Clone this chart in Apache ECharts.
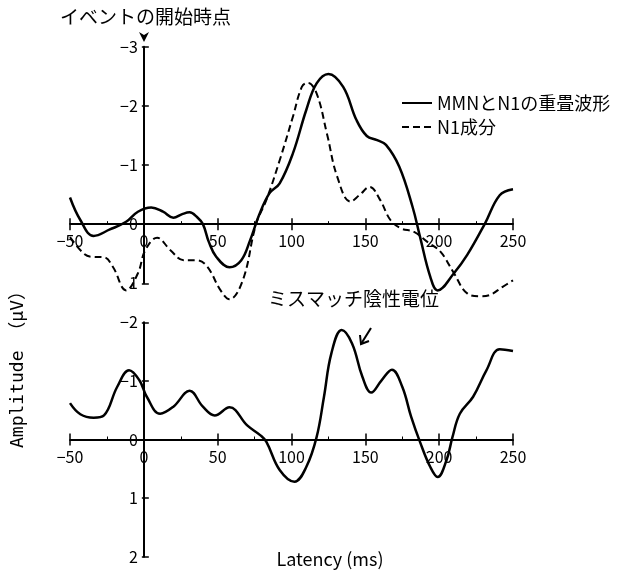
<!DOCTYPE html>
<html>
<head>
<meta charset="utf-8">
<script src="https://cdn.jsdelivr.net/npm/echarts@6/dist/echarts.min.js"></script>
<style>
  html, body { margin: 0; padding: 0; background: #fff; }
  #main { width: 631px; height: 572px; }
</style>
</head>
<body>
<div id="main"></div>
<script>
// upper panel: MMN+N1 overlap waveform (solid) and N1 component (dashed)
var topTimeSolid = [-50, -43, -34, -23, -12, -4, 5, 13, 20, 26, 31, 36, 40, 44, 49, 58, 66, 72, 78, 85, 92, 101, 110, 117, 125, 135, 144, 151, 158, 164, 173, 182, 187, 194, 199, 210, 219, 231, 241, 250];
var topSolid = [-0.45, -0.07, 0.20, 0.09, -0.04, -0.21, -0.28, -0.21, -0.11, -0.17, -0.20, -0.12, 0.0, 0.30, 0.55, 0.73, 0.61, 0.27, -0.15, -0.52, -0.69, -1.20, -1.93, -2.38, -2.54, -2.32, -1.76, -1.49, -1.42, -1.34, -0.97, -0.29, 0.21, 0.89, 1.12, 0.83, 0.52, -0.01, -0.49, -0.59];

var topTimeDash = [-50, -41, -36, -27, -21, -12, -4, 1, 9, 18, 27, 36, 43, 52, 58, 67, 76, 83, 92, 101, 107, 111, 117, 124, 131, 140, 146, 153, 160, 167, 174, 183, 192, 201, 210, 219, 228, 234, 243, 250];
var topDash = [0.22, 0.49, 0.55, 0.56, 0.72, 1.12, 0.83, 0.44, 0.23, 0.44, 0.61, 0.61, 0.72, 1.12, 1.27, 0.95, 0.0, -0.41, -1.08, -1.82, -2.32, -2.39, -2.21, -1.53, -0.80, -0.38, -0.49, -0.63, -0.41, -0.07, 0.07, 0.13, 0.30, 0.47, 0.83, 1.17, 1.22, 1.20, 1.06, 0.95];

// lower panel: mismatch negativity (difference wave)
var bottomTime = [-50, -43, -34, -27, -18, -10, -3, 2, 11, 20, 31, 40, 48, 58, 70, 79, 83, 92, 102, 110, 117, 122, 127, 134, 141, 148, 154, 161, 168, 175, 181, 187, 194, 199, 205, 209, 214, 223, 232, 241, 250];
var bottomMmn = [-0.62, -0.43, -0.37, -0.41, -0.90, -1.18, -1.01, -0.73, -0.44, -0.56, -0.83, -0.56, -0.41, -0.55, -0.24, -0.07, 0.04, 0.52, 0.72, 0.47, -0.04, -0.73, -1.47, -1.87, -1.64, -1.07, -0.80, -1.01, -1.19, -0.90, -0.39, 0.04, 0.47, 0.64, 0.35, -0.04, -0.44, -0.73, -1.18, -1.54, -1.51];

var xTicks = { min: -50, max: 250, step: 50 };
var topY = { min: -3, max: 1 };
var bottomY = { min: -2, max: 2 };
var seriesNames = ['MMNとN1の重畳波形', 'N1成分'];

var CJK = '"Noto Sans CJK JP", sans-serif';
var grids = [
  { left: 70, width: 443, top: 46.7, height: 236.6 },
  { left: 70, width: 443, top: 322.3, height: 234.4 }
];
var yRanges = [topY, bottomY];

function pairs(xs, ys) {
  var out = [];
  for (var i = 0; i < xs.length; i++) out.push([xs[i], ys[i]]);
  return out;
}
function minus(v) { return String(v).replace('-', '\u2212'); }

// distance in px from the grid edge to the zero line (axes cross at 0)
function zeroFromBottom(g) { var r = yRanges[g]; return grids[g].height * r.max / (r.max - r.min); }
function zeroFromLeft(g) { return grids[g].width * (0 - xTicks.min) / (xTicks.max - xTicks.min); }

function xMain(g) {
  return {
    gridIndex: g, type: 'value', position: 'bottom', offset: -zeroFromBottom(g),
    min: xTicks.min, max: xTicks.max, interval: xTicks.step,
    axisLine: { onZero: false, lineStyle: { color: '#000', width: 2 } },
    axisTick: { inside: true, length: 6, lineStyle: { color: '#000', width: 1.5 } },
    minorTick: { show: true, splitNumber: 2, length: 3, lineStyle: { color: '#000', width: 1 } },
    axisLabel: { margin: 9, color: '#000', fontSize: 16, fontFamily: CJK, formatter: minus },
    splitLine: { show: false }
  };
}
function xDup(g) {
  return {
    gridIndex: g, type: 'value', position: 'top', offset: -(grids[g].height - zeroFromBottom(g)),
    min: xTicks.min, max: xTicks.max, interval: xTicks.step,
    axisLine: { show: false, onZero: false },
    axisTick: { inside: true, length: 6, lineStyle: { color: '#000', width: 1.5 } },
    axisLabel: { show: false },
    splitLine: { show: false }
  };
}
function yAx(g) {
  var r = yRanges[g];
  return {
    gridIndex: g, type: 'value', position: 'left', offset: -zeroFromLeft(g),
    min: r.min, max: r.max, interval: 1, inverse: true,
    axisLine: { onZero: false, lineStyle: { color: '#000', width: 2 } },
    axisTick: { inside: true, length: 5, lineStyle: { color: '#000', width: 1.5 } },
    axisLabel: { margin: 6, color: '#000', fontSize: 16, fontFamily: CJK, formatter: minus },
    splitLine: { show: false }
  };
}
function yDup(g) {
  var r = yRanges[g];
  return {
    gridIndex: g, type: 'value', position: 'left', offset: -zeroFromLeft(g),
    min: r.min, max: r.max, interval: 1, inverse: true,
    axisLine: { show: false, onZero: false },
    axisTick: { inside: false, length: 2, lineStyle: { color: '#000', width: 1.5 } },
    axisLabel: { show: false },
    splitLine: { show: false }
  };
}

var chart = echarts.init(document.getElementById('main'));
chart.setOption({
  animation: false,
  backgroundColor: '#fff',
  grid: grids,
  xAxis: [xMain(0), xDup(0), xMain(1), xDup(1)],
  yAxis: [yAx(0), yDup(0), yAx(1), yDup(1)],
  legend: {
    orient: 'vertical', left: 396, top: 89, itemGap: 6,
    itemWidth: 30, itemHeight: 14,
    data: seriesNames,
    itemStyle: { opacity: 0 },
    textStyle: { color: '#000', fontSize: 18, fontFamily: CJK }
  },
  series: [
    {
      name: seriesNames[0], type: 'line', xAxisIndex: 0, yAxisIndex: 0, clip: false,
      data: pairs(topTimeSolid, topSolid), smooth: 0.4, symbol: 'none',
      lineStyle: { color: '#000', width: 2.5 }, itemStyle: { color: '#000' }
    },
    {
      name: seriesNames[1], type: 'line', xAxisIndex: 0, yAxisIndex: 0, clip: false,
      data: pairs(topTimeDash, topDash), smooth: 0.4, symbol: 'none',
      lineStyle: { color: '#000', width: 2, type: [7, 4] }, itemStyle: { color: '#000' }
    },
    {
      name: 'MMN', type: 'line', xAxisIndex: 2, yAxisIndex: 2, clip: false,
      data: pairs(bottomTime, bottomMmn), smooth: 0.4, symbol: 'none',
      lineStyle: { color: '#000', width: 2.5 }, itemStyle: { color: '#000' }
    }
  ],
  graphic: [
    { type: 'text', left: 60, top: 7, style: { text: 'イベントの開始時点', fill: '#000', font: '19px ' + CJK } },
    { type: 'polygon', shape: { points: [[139, 32], [144, 35], [149, 32], [144, 42]] }, style: { fill: '#000' } },
    { type: 'text', left: 268, top: 289, style: { text: 'ミスマッチ陰性電位', fill: '#000', font: '19px ' + CJK } },
    { type: 'line', shape: { x1: 371, y1: 328, x2: 361, y2: 344 }, style: { stroke: '#000', lineWidth: 2 } },
    { type: 'polyline', shape: { points: [[360, 335], [361, 344], [369, 341]] }, style: { stroke: '#000', lineWidth: 2, fill: null } },
    {
      type: 'text', x: 18, y: 365, rotation: Math.PI / 2,
      style: { text: 'Amplitude （μV）', fill: '#000', font: '18px "DejaVu Sans Mono", "Noto Sans CJK JP"', align: 'center', verticalAlign: 'middle' }
    },
    { type: 'text', x: 330, y: 559, style: { text: 'Latency (ms)', fill: '#000', font: '18px ' + CJK, align: 'center', verticalAlign: 'middle' } }
  ]
});
</script>
</body>
</html>
